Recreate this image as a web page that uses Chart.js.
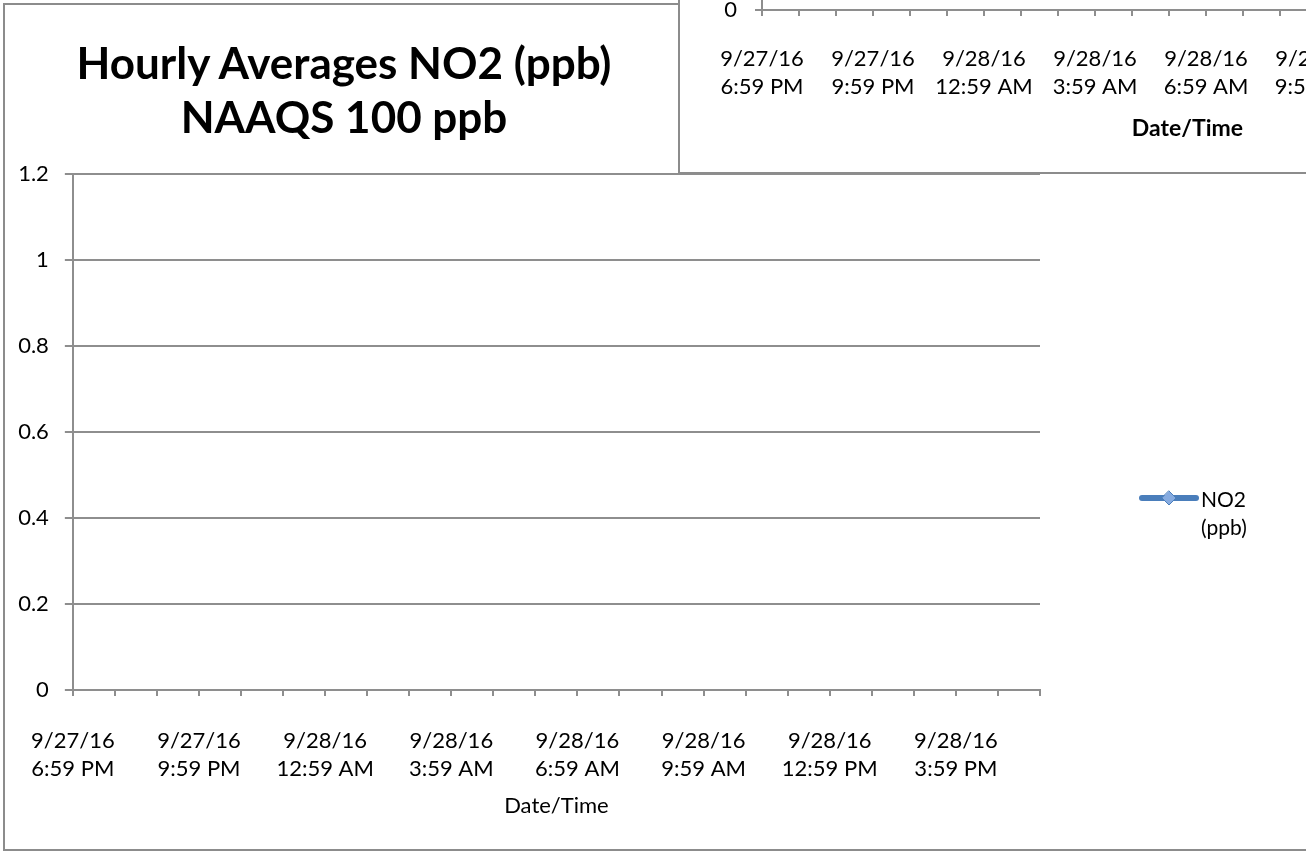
<!DOCTYPE html>
<html><head><meta charset="utf-8">
<script src="https://cdn.jsdelivr.net/npm/chart.js@4.4.1/dist/chart.umd.min.js"></script>
<style>
html,body{margin:0;padding:0;background:#fff;width:1306px;height:853px;overflow:hidden;position:relative;font-family:Lato,sans-serif;}
#mainBorder{position:absolute;left:3px;top:3px;width:1400px;height:848px;border:2px solid #8c8c8c;box-sizing:border-box;}
#mainWrap{position:absolute;left:0;top:0;width:1306px;height:853px;}
#title{position:absolute;left:44px;width:600px;top:35px;text-align:center;font:bold 44px/54px Lato,sans-serif;color:#000;}
#second{position:absolute;left:678px;top:-300px;width:800px;height:474px;background:#fff;border-left:2px solid #8c8c8c;border-bottom:2px solid #8c8c8c;box-sizing:border-box;}
#secondWrap{position:absolute;left:679px;top:-227px;width:1000px;height:400px;}
canvas{display:block;}
</style></head>
<body>
<div id="mainBorder"></div>
<div id="mainWrap"><canvas id="main" width="1306" height="853"></canvas></div>
<div id="title">Hourly Averages NO2 (ppb)<br>NAAQS 100 ppb</div>
<div id="second"></div>
<div id="secondWrap"><canvas id="sec" width="1000" height="400"></canvas></div>
<script>
// ---- data ----
const dates = ['9/27/16','9/27/16','9/27/16','9/27/16','9/27/16','9/27/16',
  '9/28/16','9/28/16','9/28/16','9/28/16','9/28/16','9/28/16',
  '9/28/16','9/28/16','9/28/16','9/28/16','9/28/16','9/28/16',
  '9/28/16','9/28/16','9/28/16','9/28/16','9/28/16','9/28/16'];
const times = ['6:59 PM','7:59 PM','8:59 PM','9:59 PM','10:59 PM','11:59 PM',
  '12:59 AM','1:59 AM','2:59 AM','3:59 AM','4:59 AM','5:59 AM',
  '6:59 AM','7:59 AM','8:59 AM','9:59 AM','10:59 AM','11:59 AM',
  '12:59 PM','1:59 PM','2:59 PM','3:59 PM','4:59 PM','5:59 PM'];
const seriesName = 'NO2 (ppb)';
const no2Values = [null,null,null,null,null,null,null,null,null,null,null,null,
  null,null,null,null,null,null,null,null,null,null,null,null];
const otherValues = [null,null,null,null,null,null,null,null,null,null,null,null,
  null,null,null,null,null,null,null,null,null,null,null,null];
const yTickLabels = ['0','0.2','0.4','0.6','0.8','1','1.2'];
const xLabelEvery = 3;

const labels = dates.map((d,i)=>[d, times[i]]);
const GRID = '#8e8e8e';
const LINE = '#4A7EBB';
const tickFont = {family:'Lato', size:22, lineHeight:1.27};

const legendPlugin = {
  id:'excelLegend',
  afterDraw(chart){
    const ctx = chart.ctx;
    const ds = chart.data.datasets[0];
    ctx.save();
    ctx.lineCap = 'round';
    ctx.strokeStyle = ds.borderColor;
    ctx.lineWidth = 6;
    ctx.beginPath(); ctx.moveTo(1142,498); ctx.lineTo(1196,498); ctx.stroke();
    ctx.beginPath();
    ctx.moveTo(1169,491); ctx.lineTo(1176,498); ctx.lineTo(1169,505); ctx.lineTo(1162,498); ctx.closePath();
    ctx.fillStyle = ds.backgroundColor; ctx.fill();
    ctx.lineWidth = 1; ctx.strokeStyle = ds.borderColor; ctx.stroke();
    ctx.fillStyle = '#000';
    ctx.font = '21px Lato';
    ctx.textAlign = 'left'; ctx.textBaseline = 'alphabetic';
    const parts = ds.label.split(' ');
    ctx.fillText(parts[0], 1201, 507);
    ctx.fillText(parts[1], 1201, 535);
    ctx.restore();
  }
};

new Chart(document.getElementById('main'), {
  type:'line',
  data:{labels, datasets:[{label:seriesName, data:no2Values, borderColor:LINE, backgroundColor:'#86ABE0',
    borderWidth:6, pointStyle:'rectRot', pointRadius:6}]},
  options:{
    responsive:false, animation:false, events:[],
    layout:{padding:{left:0, top:174, right:266, bottom:0}},
    plugins:{legend:{display:false}, title:{display:false}, tooltip:{enabled:false}},
    scales:{
      x:{type:'category', offset:false,
        grid:{display:true, drawOnChartArea:false, drawTicks:true, tickLength:6, color:GRID, lineWidth:2},
        border:{display:true, color:GRID, width:2},
        ticks:{autoSkip:false, maxRotation:0, minRotation:0, padding:31, color:'#000', font:tickFont,
          callback:(v,i)=> i % xLabelEvery === 0 ? labels[i] : ''},
        title:{display:true, text:'Date/Time', color:'#000', font:{family:'Lato', size:22}, padding:{top:0, bottom:34}},
        afterFit:s=>{ s.height = 163; }
      },
      y:{min:0, max:1.2,
        ticks:{stepSize:0.2, padding:16, color:'#000', font:tickFont, callback:(v,i)=>yTickLabels[i]},
        grid:{color:GRID, lineWidth:2, tickLength:8, drawTicks:true},
        border:{display:true, color:GRID, width:2},
        afterFit:s=>{ s.width = 72; }
      }
    }
  },
  plugins:[legendPlugin]
});

new Chart(document.getElementById('sec'), {
  type:'line',
  data:{labels, datasets:[{label:seriesName, data:otherValues, borderColor:LINE, borderWidth:6}]},
  options:{
    responsive:false, animation:false, events:[],
    layout:{padding:{left:0, top:40, right:66, bottom:0}},
    plugins:{legend:{display:false}, title:{display:false}, tooltip:{enabled:false}},
    scales:{
      x:{type:'category', offset:false,
        grid:{display:true, drawOnChartArea:false, drawTicks:true, tickLength:6, color:GRID, lineWidth:2},
        border:{display:true, color:GRID, width:2},
        ticks:{autoSkip:false, maxRotation:0, minRotation:0, padding:29, color:'#000', font:tickFont,
          callback:(v,i)=> i % xLabelEvery === 0 ? labels[i] : ''},
        title:{display:true, text:'Date/Time', color:'#000', font:{family:'Lato', size:23, weight:'bold'}, padding:{top:0, bottom:31}},
        afterFit:s=>{ s.height = 163; }
      },
      y:{min:0, max:1.2,
        ticks:{stepSize:0.2, padding:18, color:'#000', font:tickFont, callback:(v,i)=>yTickLabels[i]},
        grid:{color:GRID, lineWidth:2, tickLength:7, drawTicks:true},
        border:{display:true, color:GRID, width:2},
        afterFit:s=>{ s.width = 83; }
      }
    }
  }
});
</script>
</body></html>
